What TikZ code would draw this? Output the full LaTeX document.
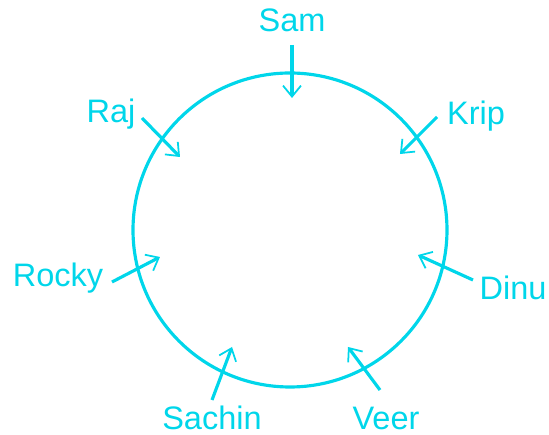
\documentclass[tikz,border=0pt]{standalone}
\usepackage{fontspec}
\setmainfont{Liberation Sans}
\usetikzlibrary{arrows.meta}
\definecolor{ring}{RGB}{0,214,234}

\begin{document}
\begin{tikzpicture}[x=0.02cm,y=-0.02cm,
  seat/.style={ring, line width=1.8pt, -{Straight Barb[length=2.2mm,width=3.6mm,line width=1pt]}},
  who/.style={anchor=base, text=ring, inner sep=0pt, font=\fontsize{18.5}{22}\selectfont}]

  \useasboundingbox (0,0) rectangle (549,435);

  % the table
  \coordinate (c) at (290,230);
  \draw[ring, line width=1.8pt] (c) circle[radius=157];

  % names round it
  \foreach \name/\txt/\x/\y in {sam/Sam/292/32, raj/Raj/111/123, krip/Krip/476/125,
      rocky/Rocky/58/287, dinu/Dinu/513/300, sachin/Sachin/212/430, veer/Veer/386/430} {
    \node[who] (\name) at (\x,\y) {\txt};
  }

  % who faces where
  \foreach \name/\ax/\ay/\bx/\by in {sam/292/45/292/98, raj/142/118/180/157,
      krip/437/117/400/154, rocky/112/282/160/257, dinu/473/280/418/255,
      sachin/212/400/232/347, veer/380/390/348/347} {
    \coordinate (\name-from) at (\ax,\ay);
    \coordinate (\name-to) at (\bx,\by);
    \draw[seat] (\name-from) -- (\name-to);
  }

\end{tikzpicture}
\end{document}
